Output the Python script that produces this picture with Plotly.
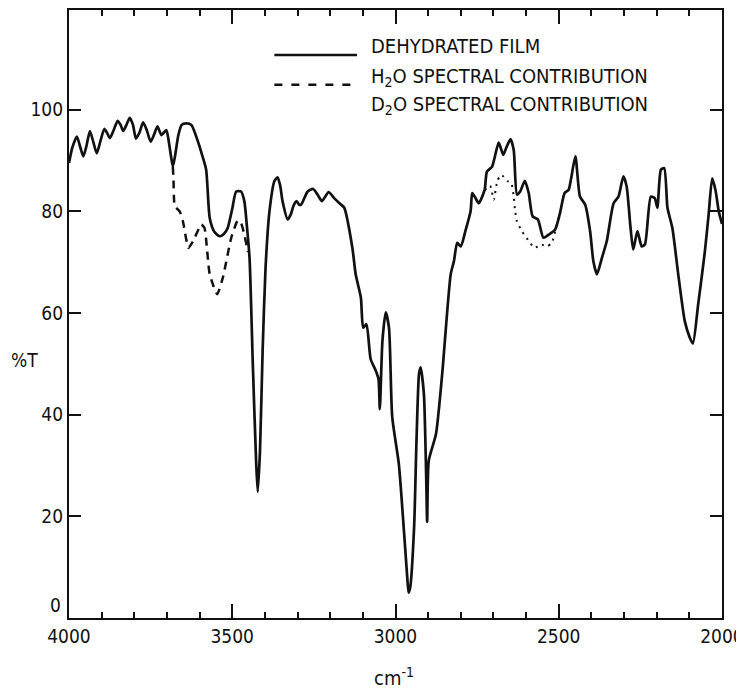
import plotly.graph_objects as go

# Dehydrated film spectrum (wavenumber cm^-1, %T)
film_wn = [4000, 3990, 3976, 3965, 3956, 3946, 3936, 3925, 3915, 3903, 3892, 3884, 3875, 3863,
           3851, 3842, 3834, 3824, 3814, 3804, 3795, 3784, 3773, 3762, 3750, 3740, 3729, 3717,
           3702, 3695, 3688, 3682, 3675, 3665, 3655, 3641, 3625, 3605, 3592, 3580, 3569, 3555,
           3539, 3525, 3514, 3500, 3488, 3473, 3463, 3455, 3447, 3437, 3427, 3422, 3415, 3407,
           3398, 3386, 3371, 3361, 3353, 3346, 3330, 3320, 3313, 3303, 3295, 3289, 3269, 3252,
           3239, 3225, 3205, 3188, 3170, 3157, 3132, 3122, 3106, 3099, 3089, 3076, 3060, 3052,
           3048, 3040, 3030, 3020, 3010, 2990, 2974, 2964, 2960, 2955, 2943, 2936, 2928, 2923,
           2913, 2906, 2903, 2898, 2876, 2857, 2831, 2821, 2811, 2800, 2786, 2770, 2765, 2755,
           2745, 2727, 2720, 2704, 2684, 2670, 2662, 2648, 2638, 2628, 2618, 2604, 2592, 2580,
           2564, 2547, 2531, 2511, 2496, 2482, 2470, 2462, 2449, 2435, 2419, 2404, 2394, 2383,
           2368, 2353, 2332, 2317, 2302, 2292, 2281, 2272, 2259, 2246, 2236, 2218, 2206, 2198,
           2187, 2177, 2167, 2152, 2134, 2114, 2099, 2089, 2073, 2053, 2041, 2030, 2020, 2010,
           2000]
film_t = [89.5, 92.5, 94.7, 92.5, 90.8, 93.0, 95.8, 93.5, 91.4, 94.0, 96.2, 95.5, 94.4, 96.0,
          97.8, 97.0, 95.8, 97.0, 98.4, 97.0, 94.3, 95.5, 97.5, 96.0, 93.7, 95.0, 96.7, 95.0,
          96.0, 94.0, 91.0, 88.8, 91.0, 95.0, 97.0, 97.3, 97.0, 93.7, 91.0, 88.2, 78.7, 76.0,
          75.1, 75.6, 76.7, 80.5, 83.9, 83.9, 82.0, 77.0, 70.8, 49.9, 31.0, 24.8, 32.9, 52.5,
          68.9, 80.0, 85.9, 86.7, 85.0, 82.0, 78.4, 79.5, 81.0, 82.0, 81.3, 81.3, 83.9, 84.4,
          83.3, 82.0, 83.8, 82.6, 81.5, 80.7, 72.8, 67.6, 63.0, 57.1, 57.8, 50.9, 48.6, 47.0,
          41.1, 54.5, 60.1, 57.1, 39.5, 30.4, 17.0, 8.0, 5.0, 6.0, 17.9, 34.2, 48.0, 49.3,
          44.0, 27.7, 18.9, 31.0, 36.2, 48.0, 67.6, 70.2, 73.8, 73.1, 76.1, 80.0, 83.6, 82.6,
          81.6, 84.2, 87.8, 88.8, 93.5, 91.1, 92.3, 94.2, 92.1, 83.3, 83.9, 86.0, 83.6, 79.0,
          78.4, 74.8, 75.4, 76.4, 79.7, 83.6, 84.2, 86.5, 90.8, 82.9, 81.3, 76.1, 70.2, 67.6,
          70.8, 74.1, 81.6, 82.9, 86.9, 84.9, 77.4, 72.5, 76.1, 73.1, 73.5, 82.9, 82.6, 80.7,
          88.2, 88.5, 80.7, 76.7, 67.6, 58.4, 55.2, 54.0, 61.7, 71.8, 79.3, 86.5, 84.2, 80.0,
          77.5]

# H2O spectral contribution
h2o_wn = [3682, 3680, 3676, 3661, 3651, 3634, 3620, 3595, 3585, 3569, 3546, 3529, 3503,
          3483, 3473, 3463, 3452]
h2o_t = [88.8, 86.5, 81.0, 80.0, 78.0, 72.8, 74.1, 77.4, 76.7, 67.6, 63.7, 66.9, 74.8,
         78.2, 77.7, 75.4, 72.0]

# D2O spectral contribution
d2o_wn = [2727, 2710, 2699, 2688, 2676, 2656, 2645, 2638, 2634, 2628, 2613, 2590, 2574,
          2555, 2536, 2521, 2506, 2496]
d2o_t = [84.2, 85.0, 82.3, 86.0, 87.2, 85.9, 85.5, 82.9, 80.3, 78.0, 76.1, 74.0, 72.8,
         73.5, 73.1, 73.8, 77.4, 79.7]

x_ticks = [4000, 3500, 3000, 2500, 2000]
y_ticks = [20, 40, 60, 80, 100]
y_zero_label = "0"
legend_labels = ["DEHYDRATED FILM", "H<sub>2</sub>O SPECTRAL CONTRIBUTION",
                 "D<sub>2</sub>O SPECTRAL CONTRIBUTION"]

FONT = "DejaVu Sans Condensed, Liberation Sans Narrow, Liberation Sans, sans-serif"
INK = "#111111"

fig = go.Figure()
fig.add_trace(go.Scatter(x=film_wn, y=film_t, mode="lines",
                         line=dict(color=INK, width=2.7, shape="spline", smoothing=0.6),
                         name=legend_labels[0]))
fig.add_trace(go.Scatter(x=h2o_wn, y=h2o_t, mode="lines",
                         line=dict(color=INK, width=2.5, dash="8px,6px", shape="spline", smoothing=0.5),
                         name=legend_labels[1]))
fig.add_trace(go.Scatter(x=d2o_wn, y=d2o_t, mode="lines",
                         line=dict(color=INK, width=2, dash="2px,5px", shape="spline", smoothing=0.5),
                         name=legend_labels[2]))

# Manual legend (sample lines + labels)
fig.add_shape(type="line", xref="paper", yref="paper", x0=0.3145, x1=0.441, y0=0.926, y1=0.926,
              line=dict(color=INK, width=2.4))
fig.add_shape(type="line", xref="paper", yref="paper", x0=0.3145, x1=0.441, y0=0.877, y1=0.877,
              line=dict(color=INK, width=2.4, dash="8px,9px"))
for lab, yp in zip(legend_labels, [0.940, 0.889, 0.843]):
    fig.add_annotation(text=lab, xref="paper", yref="paper", x=0.4595, y=yp,
                       xanchor="left", yanchor="middle", showarrow=False,
                       font=dict(family=FONT, size=20, color=INK))

# "0" y label sits slightly above the axis in the original
fig.add_annotation(text=y_zero_label, xref="paper", yref="y", x=-0.009, y=2.5,
                   xanchor="right", yanchor="middle", showarrow=False,
                   font=dict(family=FONT, size=19, color=INK))

# Axis titles
fig.add_annotation(text="%T", xref="paper", yref="paper", x=-0.0916, y=0.4246,
                   xanchor="left", yanchor="middle", showarrow=False,
                   font=dict(family=FONT, size=19, color=INK))
fig.add_annotation(text="cm<sup>-1</sup>", xref="paper", yref="paper", x=0.464, y=-0.072,
                   xanchor="left", yanchor="top", showarrow=False,
                   font=dict(family=FONT, size=20, color=INK))

fig.update_layout(
    width=736, height=687,
    margin=dict(l=61, r=20, t=0, b=77),
    paper_bgcolor="white", plot_bgcolor="white",
    showlegend=False,
    font=dict(family=FONT, size=19, color=INK),
)
fig.update_xaxes(
    range=[4000, 2000], tickvals=x_ticks, ticktext=[str(v) for v in x_ticks],
    ticks="inside", ticklen=14, tickwidth=1.5, tickcolor=INK,
    ticklabeloverflow="allow",
    minor=dict(dtick=100, ticks="inside", ticklen=6, tickwidth=1.5, tickcolor=INK),
    showline=True, linewidth=2.2, linecolor=INK, mirror="ticks",
    showgrid=False, zeroline=False,
)
fig.update_yaxes(
    range=[0, 119.6], tickvals=y_ticks, ticktext=[str(v) for v in y_ticks],
    ticks="inside", ticklen=12, tickwidth=1.5, tickcolor=INK,
    ticklabeloverflow="allow",
    showline=True, linewidth=2.2, linecolor=INK, mirror="ticks",
    showgrid=False, zeroline=False,
)

fig.write_html("out.html")
